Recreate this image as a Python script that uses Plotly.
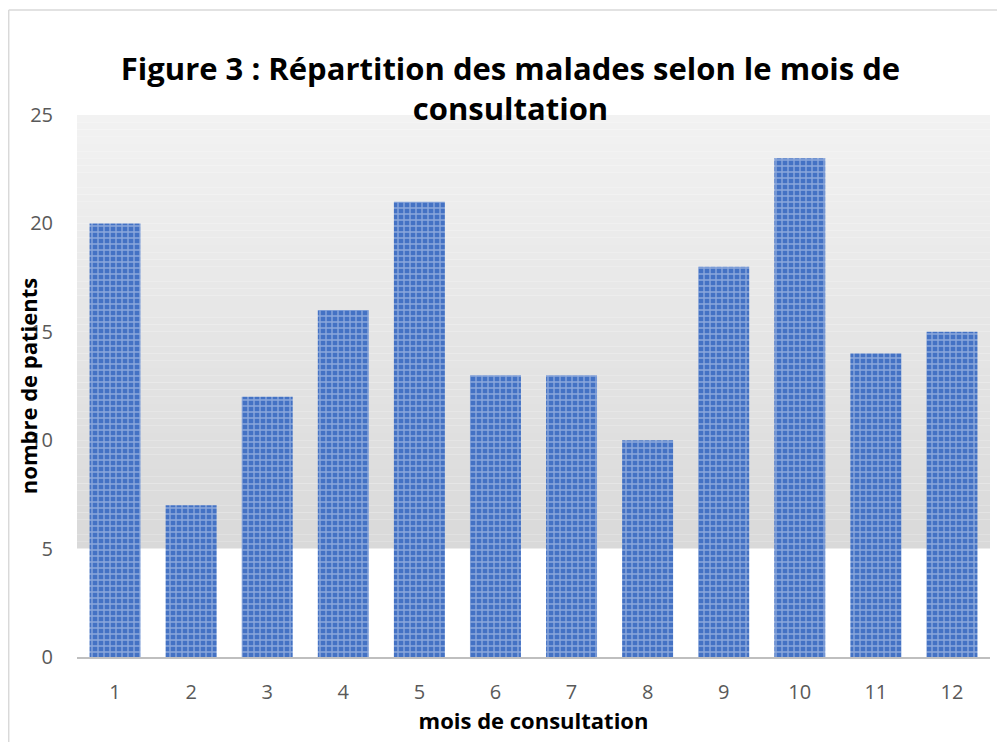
import plotly.graph_objects as go

months = [str(i) for i in range(1, 13)]
patients = [20, 7, 12, 16, 21, 13, 13, 10, 18, 23, 14, 15]
y_ticks = [0, 5, 10, 15, 20, 25]

title_text = "Figure 3 : Répartition des malades selon le mois de<br>consultation"
x_title = "mois de consultation"
y_title = "nombre de patients"

FONT = "Open Sans, Lato, sans-serif"

fig = go.Figure()
fig.add_trace(go.Bar(
    x=months, y=patients,
    marker=dict(
        color="#4472c4",
        line=dict(width=0),
        pattern=dict(shape="+", fgcolor="#d3def4", bgcolor="#4472c4",
                     size=6, solidity=0.4, fillmode="overlay"),
    ),
))

# gradient background from y=5 to y=25
n = 60
c_top = (242, 242, 242)
c_bot = (217, 217, 217)
shapes = []
for i in range(n):
    y0 = 5 + 20 * i / n
    y1 = 5 + 20 * (i + 1) / n
    t = (i + 0.5) / n
    col = tuple(round(c_bot[k] + (c_top[k] - c_bot[k]) * t) for k in range(3))
    shapes.append(dict(type="rect", xref="paper", yref="y", x0=0, x1=1, y0=y0, y1=y1,
                       fillcolor="rgb(%d,%d,%d)" % col, line=dict(width=0), layer="below"))
# chart border (top and left edges visible)
shapes.append(dict(type="line", xref="paper", yref="paper", x0=-0.0748, x1=1.05, y0=1.1937, y1=1.1937,
                   line=dict(color="#d9d9d9", width=1.5)))
shapes.append(dict(type="line", xref="paper", yref="paper", x0=-0.0748, x1=-0.0748, y0=-0.2, y1=1.1937,
                   line=dict(color="#d9d9d9", width=1.5)))

fig.update_layout(
    width=1005, height=742,
    margin=dict(l=69, r=23, t=107, b=93),
    paper_bgcolor="white", plot_bgcolor="white",
    bargap=0.33,
    showlegend=False,
    shapes=shapes,
    font=dict(family=FONT, color="#595959", size=20),
    title=dict(text=title_text, x=0.5, xanchor="center", xref="container",
               y=0.903, yanchor="top", yref="container",
               font=dict(size=31, color="black", family=FONT, weight="bold")),
    xaxis=dict(
        showgrid=False, showline=True, linecolor="#bfbfbf", linewidth=1.5,
        ticks="", ticklabelstandoff=16,
        title=dict(text=x_title, standoff=8,
                   font=dict(size=22, color="black", weight="bold")),
    ),
    yaxis=dict(
        range=[0, 25], tickvals=y_ticks, showgrid=False, zeroline=False,
        showline=False, ticks="", ticklabelstandoff=23,
    ),
    annotations=[dict(text=y_title, textangle=-90, xref="paper", yref="paper",
                      x=-0.0535, y=0.5, xanchor="center", yanchor="middle", showarrow=False,
                      font=dict(size=22, color="black", weight="bold"))],
)

fig.write_html("out.html")
